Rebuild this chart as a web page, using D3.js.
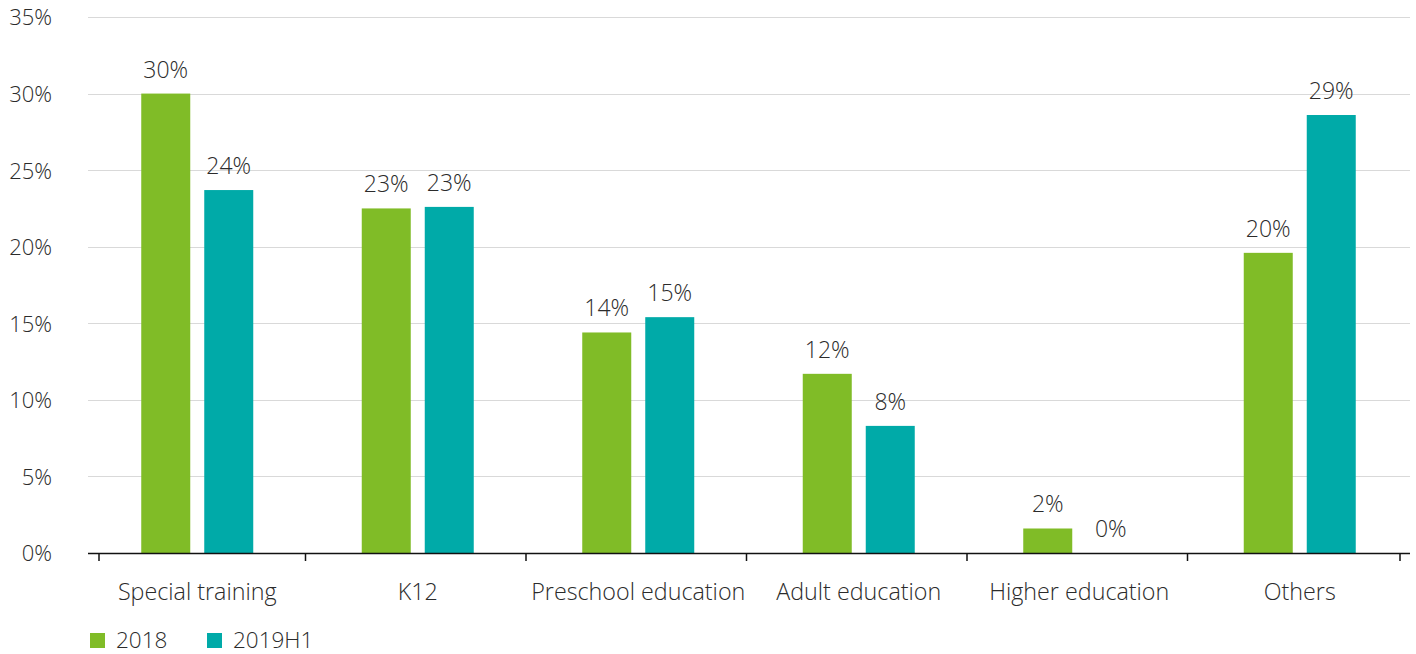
<!DOCTYPE html>
<html>
<head>
<meta charset="utf-8">
<script src="https://cdn.jsdelivr.net/npm/d3@7/dist/d3.min.js"></script>
<style>
  html, body { margin: 0; padding: 0; background: #fff; }
  svg { display: block; }
  text { font-family: "Open Sans", sans-serif; font-weight: 300; fill: #2b2b2b; }
</style>
</head>
<body>
<svg id="chart" width="1416" height="654"></svg>
<script>
const categories = ["Special training", "K12", "Preschool education", "Adult education", "Higher education", "Others"];
const seriesNames = ["2018", "2019H1"];
const values2018 = [30.0, 22.5, 14.4, 11.7, 1.6, 19.6];
const values2019H1 = [23.7, 22.6, 15.4, 8.3, 0.0, 28.6];
const labels2018 = ["30%", "23%", "14%", "12%", "2%", "20%"];
const labels2019H1 = ["24%", "23%", "15%", "8%", "0%", "29%"];
const yTicks = [0, 5, 10, 15, 20, 25, 30, 35];
const colors = ["#80bc27", "#00aaa8"];

const svg = d3.select("#chart");
const mLeft = 87, mRight = 1410, mTop = 17, mBottom = 553;

const x0 = d3.scaleBand().domain(categories).range([mLeft, mRight]).padding(0);
const step = x0.step();
const x1 = d3.scaleBand().domain(seriesNames)
  .range([step / 2 - 56, step / 2 + 56]).paddingInner(14 / 63).paddingOuter(0);
const y = d3.scaleLinear().domain([0, 35]).range([mBottom, mTop]);

// gridlines
svg.append("g").selectAll("line").data(yTicks.filter(d => d > 0)).join("line")
  .attr("x1", mLeft + 1).attr("x2", mRight)
  .attr("y1", d => Math.round(y(d)) + 0.5).attr("y2", d => Math.round(y(d)) + 0.5)
  .attr("stroke", "#d9d9d9").attr("stroke-width", 1);

// y labels
const yAxis = d3.axisLeft(y).tickValues(yTicks).tickFormat(d => d + "%").tickSize(0).tickPadding(0);
const gy = svg.append("g").attr("transform", "translate(52,0)").call(yAxis);
gy.select(".domain").remove();
gy.selectAll("text").attr("font-size", 22).attr("font-family", "Open Sans").attr("font-weight", 300).attr("fill", "#2b2b2b").attr("dy", "0.36em");

// bars
const data = categories.map((c, i) => ({ c, vals: [values2018[i], values2019H1[i]], labs: [labels2018[i], labels2019H1[i]] }));
const groups = svg.append("g").selectAll("g").data(data).join("g")
  .attr("transform", d => `translate(${x0(d.c)},0)`);
groups.selectAll("rect").data(d => d.vals.map((v, j) => ({ s: seriesNames[j], v, j }))).join("rect")
  .attr("x", d => x1(d.s)).attr("width", x1.bandwidth())
  .attr("y", d => y(d.v)).attr("height", d => mBottom - y(d.v))
  .attr("fill", d => colors[d.j]);
groups.selectAll("text").data(d => d.vals.map((v, j) => ({ s: seriesNames[j], v, lab: d.labs[j] }))).join("text")
  .attr("x", d => x1(d.s) + x1.bandwidth() / 2).attr("y", d => y(d.v) - 16)
  .attr("text-anchor", "middle").attr("font-size", 23).text(d => d.lab);

// x axis
svg.append("line").attr("x1", mLeft + 1).attr("x2", mRight)
  .attr("y1", mBottom + 0.5).attr("y2", mBottom + 0.5).attr("stroke", "#111").attr("stroke-width", 1.6);
const boundaries = categories.map(c => x0(c)).concat([mRight]);
const tickPos = boundaries.map((b, i) => i === 0 ? b + 12 : (i === boundaries.length - 1 ? b - 10 : b - 2));
svg.append("g").selectAll("line").data(tickPos).join("line")
  .attr("x1", d => d).attr("x2", d => d).attr("y1", mBottom).attr("y2", mBottom + 8)
  .attr("stroke", "#111").attr("stroke-width", 1.5);
svg.append("g").selectAll("text").data(categories).join("text")
  .attr("x", c => x0(c) + step / 2).attr("y", 600)
  .attr("text-anchor", "middle").attr("font-size", 23.3).text(c => c);

// legend
const legendX = [90, 207];
const lg = svg.append("g").selectAll("g").data(seriesNames).join("g")
  .attr("transform", (d, i) => `translate(${legendX[i]},633)`);
lg.append("rect").attr("width", 15).attr("height", 15).attr("fill", (d, i) => colors[i]);
lg.append("text").attr("x", 26).attr("y", 15).attr("font-size", 22.5).text(d => d);
</script>
</body>
</html>
